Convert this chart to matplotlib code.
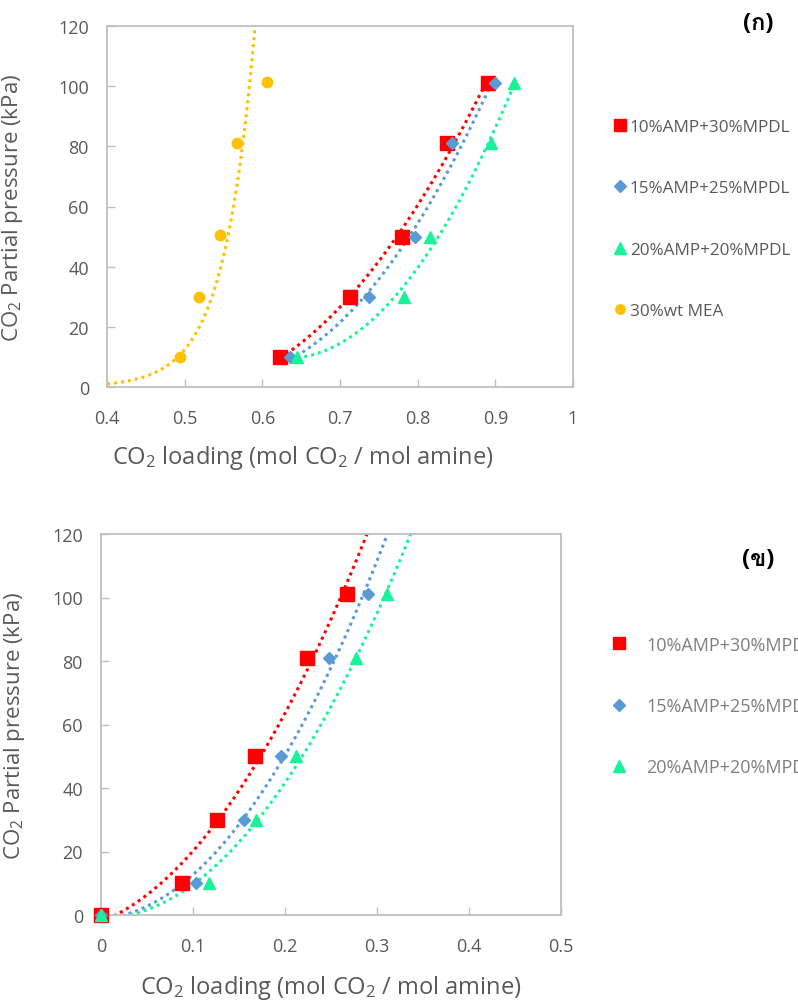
import numpy as np
import matplotlib
matplotlib.use("Agg")
import matplotlib.pyplot as plt
from matplotlib.lines import Line2D
from matplotlib import font_manager
from matplotlib.ft2font import FT2Font

# look for an installed family that has Thai letters
thai_families = []
for f in font_manager.fontManager.ttflist:
    try:
        if 0x0E01 in FT2Font(f.fname).get_charmap() and f.name not in thai_families:
            thai_families.append(f.name)
    except Exception:
        pass

plt.rcParams['font.family'] = ['Open Sans', 'DejaVu Sans'] + thai_families
plt.rcParams['mathtext.default'] = 'regular'

# (ก) equilibrium solubility
pressure = [10, 30, 50, 81, 101]
load_10_30 = [0.623, 0.713, 0.780, 0.838, 0.891]
load_15_25 = [0.636, 0.737, 0.797, 0.844, 0.900]
load_20_20 = [0.645, 0.782, 0.816, 0.894, 0.924]
mea_load = [0.494, 0.518, 0.545, 0.567, 0.606]
mea_pressure = [10, 30, 50.5, 81, 101.5]
# MEA trend line
mea_curve_x = [0.400, 0.494, 0.520, 0.539, 0.554, 0.571, 0.580, 0.591]
mea_curve_y = [1.0, 10.4, 22, 33.7, 49.2, 72.5, 89, 118.5]

# (ข) cyclic capacity
pressure_b = [0, 10, 30, 50, 81, 101]
cyc_10_30 = [0, 0.088, 0.126, 0.167, 0.224, 0.267]
cyc_15_25 = [0, 0.103, 0.155, 0.196, 0.248, 0.290]
cyc_20_20 = [0, 0.117, 0.169, 0.212, 0.277, 0.311]

names = ['10%AMP+30%MPDL', '15%AMP+25%MPDL', '20%AMP+20%MPDL', '30%wt MEA']
colors = ['#FF0000', '#5B9BD5', '#1AF29A', '#FFC000']
markers = ['s', 'D', '^', 'o']
msizes = [9.5, 6.5, 9, 7.5]

gray = '#595959'
dots = (0, (1, 1.3))


def style_axes(ax, xlim, xticks, xlabels):
    ax.set_xlim(xlim)
    ax.set_ylim(0, 120)
    ax.set_xticks(xticks)
    ax.set_xticklabels(xlabels)
    ax.set_yticks(range(0, 121, 20))
    for s in ax.spines.values():
        s.set_color('#BFBFBF')
        s.set_linewidth(1.3)
    ax.tick_params(direction='in', length=6, width=1, color='#BFBFBF',
                   labelcolor=gray, labelsize=13)
    ax.tick_params(axis='x', pad=16)
    ax.tick_params(axis='y', pad=13)
    ax.set_ylabel('CO$_2$ Partial pressure (kPa)', fontsize=16, color=gray)
    ax.set_xlabel('CO$_2$ loading (mol CO$_2$ / mol amine)', fontsize=17, color=gray)


fig = plt.figure(figsize=(7.98, 10.03), dpi=100)

# ---------- top chart ----------
ax1 = fig.add_axes([107/798, 1-388/1003, 466/798, 361/1003])
series = [load_10_30, load_15_25, load_20_20]
for i, xs in enumerate(series):
    c = np.polyfit(xs, pressure, 2)
    xx = np.linspace(min(xs), max(xs), 200)
    ax1.plot(xx, np.polyval(c, xx), ls=dots, lw=2.2, color=colors[i])
# MEA exponential trend through curve points
c = np.polyfit(mea_curve_x, np.log(mea_curve_y), 1)
xx = np.linspace(0.4, 0.6, 200)
ax1.plot(xx, np.exp(np.polyval(c, xx)), ls=dots, lw=2.2, color=colors[3])
for i, xs in enumerate(series):
    ax1.plot(xs, pressure, ls='none', marker=markers[i], ms=msizes[i],
             color=colors[i], zorder=3)
ax1.plot(mea_load, mea_pressure, ls='none', marker='o', ms=msizes[3],
         color=colors[3], zorder=3)
style_axes(ax1, (0.4, 1.0), [0.4, 0.5, 0.6, 0.7, 0.8, 0.9, 1.0],
           ['0.4', '0.5', '0.6', '0.7', '0.8', '0.9', '1'])
ax1.yaxis.set_label_coords(-0.175, 0.5)
ax1.xaxis.set_label_coords(0.42, -0.155)

h1 = [Line2D([], [], ls='none', marker=markers[i], ms=msizes[i] * 0.9,
             color=colors[i], label=names[i]) for i in range(4)]
fig.legend(handles=h1, loc='center left', bbox_to_anchor=(605/798, 1-220/1003),
           frameon=False, fontsize=12.3, labelcolor=gray, handlelength=0.7,
           handletextpad=0.25, labelspacing=2.65, borderpad=0)
fig.text(758/798, 1-24/1003, '(ก)', fontsize=17, fontweight='bold',
         ha='center', va='center', color='black')

# ---------- bottom chart ----------
ax2 = fig.add_axes([101/798, 1-916/1003, 460/798, 381/1003])
series_b = [cyc_10_30, cyc_15_25, cyc_20_20]
for i, xs in enumerate(series_b):
    c = np.polyfit(xs, pressure_b, 2)
    xx = np.linspace(0, 0.4, 300)
    keep = xx > -c[1] / (2 * c[0])
    ax2.plot(xx[keep], np.polyval(c, xx[keep]), ls=dots, lw=2.2, color=colors[i])
for i, xs in enumerate(series_b):
    ax2.plot(xs, pressure_b, ls='none', marker=markers[i], ms=msizes[i],
             color=colors[i], zorder=3, clip_on=False)
style_axes(ax2, (0, 0.5), [0, 0.1, 0.2, 0.3, 0.4, 0.5],
           ['0', '0.1', '0.2', '0.3', '0.4', '0.5'])
ax2.yaxis.set_label_coords(-0.16, 0.5)
ax2.xaxis.set_label_coords(0.5, -0.152)

h2 = [Line2D([], [], ls='none', marker=markers[i], ms=msizes[i] * 0.9,
             color=colors[i], label=names[i]) for i in range(3)]
fig.legend(handles=h2, loc='center left', bbox_to_anchor=(603/798, 1-707/1003),
           frameon=False, fontsize=13, labelcolor='#7F7F7F', handlelength=0.8,
           handletextpad=1.1, labelspacing=2.4, borderpad=0)
fig.text(758/798, 1-560/1003, '(ข)', fontsize=17, fontweight='bold',
         ha='center', va='center', color='black')

fig.savefig('out.png', dpi=100)
